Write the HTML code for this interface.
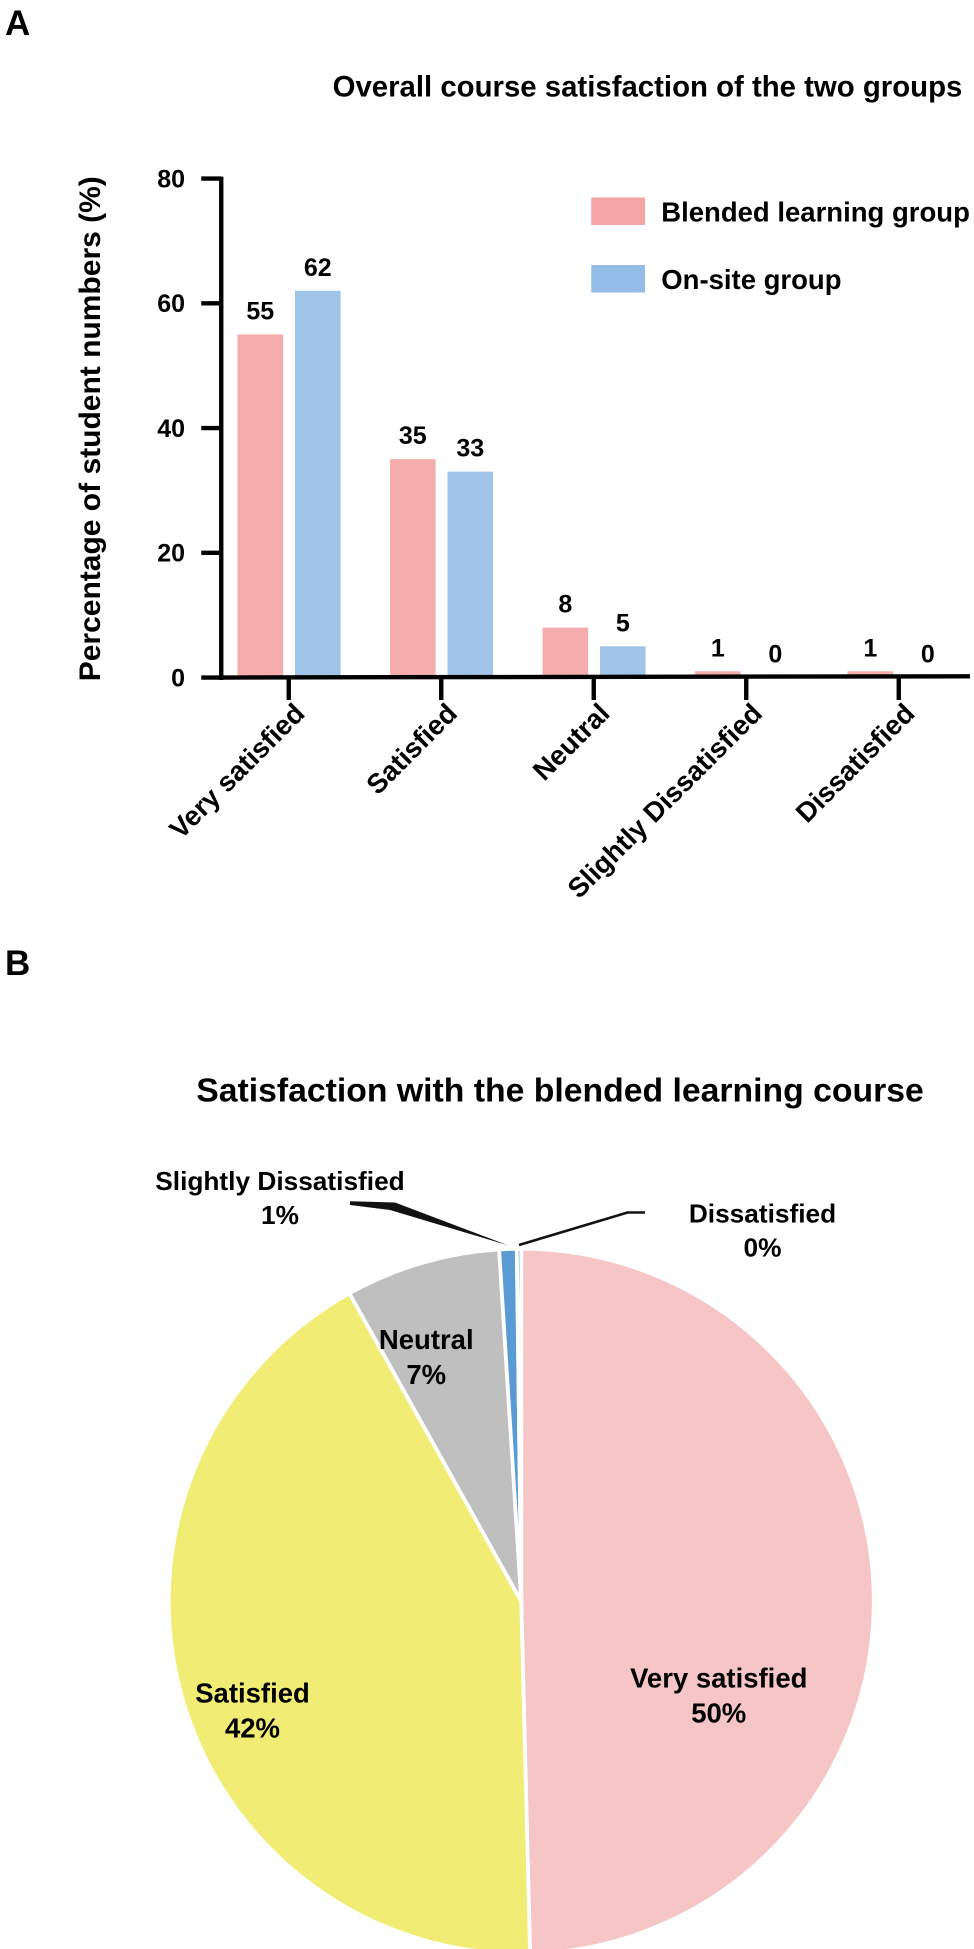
<!DOCTYPE html>
<html><head><meta charset="utf-8"><style>
html,body{margin:0;padding:0;background:#fff}
svg{display:block;font-family:"Liberation Sans",Arial,sans-serif;font-weight:bold}
</style></head><body>
<svg id="s" width="974" height="1949" viewBox="0 0 779.2 1559.2" xmlns="http://www.w3.org/2000/svg">
<text x="4" y="28" font-size="28">A</text>
<text x="518" y="77" font-size="23.5" text-anchor="middle">Overall course satisfaction of the two groups</text>
<text transform="translate(80,343) rotate(-90)" font-size="24" text-anchor="middle">Percentage of student numbers (%)</text>
<g id="bars"></g>
<g>
<rect x="473" y="158" width="43" height="22" fill="#f4a4a5"/>
<text x="529" y="177" font-size="22">Blended learning group</text>
<rect x="473" y="212" width="43" height="22" fill="#93bde6"/>
<text x="529" y="231" font-size="22">On-site group</text>
</g>
<text x="4" y="780" font-size="28">B</text>
<text x="448" y="881" font-size="27" text-anchor="middle">Satisfaction with the blended learning course</text>
<g id="pie"></g>
</svg>
<script>
const categories=["Very satisfied","Satisfied","Neutral","Slightly Dissatisfied","Dissatisfied"];
const blended=[55,35,8,1,1];
const onsite=[62,33,5,0,0];
const yTicks=[0,20,40,60,80];
const pieLabels=["Very satisfied","Satisfied","Neutral","Slightly Dissatisfied","Dissatisfied"];
const pieValues=[49.6,42.3,7.1,0.8,0.2];
const piePct=["50%","42%","7%","1%","0%"];

const NS="http://www.w3.org/2000/svg";
function mk(tag,attrs,parent,txt){const e=document.createElementNS(NS,tag);for(const k in attrs)e.setAttribute(k,attrs[k]);if(txt!==undefined)e.textContent=txt;parent.appendChild(e);return e;}
const y=v=>542-v*4.99;
const xTick=i=>231+122*i;
const g=document.getElementById('bars');
let ax=mk('line',{x1:177,y1:y(0)+2,x2:177,y2:y(80)-1.5,stroke:'#000','stroke-width':3.5},g);


yTicks.forEach(t=>{
 let l=mk('line',{x1:161,y1:y(t),x2:177,y2:y(t),stroke:'#000','stroke-width':3.5},g);
 
 
 let tx=mk('text',{x:148,y:y(t)+7,'font-size':20,'text-anchor':'end'},g,String(t));
 
 
});
const bw=36.5,gap=9.5;
categories.forEach((c,i)=>{
 const x0=xTick(i)-41;
 const vals=[blended[i],onsite[i]], cols=['#f4acac','#a0c4e8'];
 vals.forEach((v,j)=>{
  const bx=x0+j*(bw+gap);
  let r=mk('rect',{x:bx,y:y(v),width:bw,height:Math.max(y(0)-y(v),0.8),fill:cols[j]},g);
  
  
  let t=mk('text',{x:bx+bw/2,y:y(v)-12,'font-size':20,'text-anchor':'middle'},g,String(v));
  
  
 });
 let tk=mk('line',{x1:xTick(i),y1:y(0),x2:xTick(i),y2:y(0)+18,stroke:'#000','stroke-width':3.5},g);
 
 
 let lb=mk('text',{transform:`translate(${xTick(i)+14},${y(0)+30}) rotate(-45)`,'font-size':22,'text-anchor':'end'},g,c);
 
 
});
let xa=mk('line',{x1:175,y1:y(0),x2:776,y2:y(0)-1,stroke:'#000','stroke-width':3.5},g);



const p=document.getElementById('pie');
const cx=417,cy=1281,R=282;
const pcols=['#f6c5c6','#f1ec74','#c0bfc0','#5b9bd5','#5b9bd5'];
const total=pieValues.reduce((a,b)=>a+b,0);
const pt=(a,r)=>[cx+r*Math.sin(a),cy-r*Math.cos(a)];
let a0=0;const mids=[];
pieValues.forEach((v,i)=>{
 const a1=a0+v/total*2*Math.PI;
 const [x1,y1]=pt(a0,R),[x2,y2]=pt(a1,R);
 const large=(a1-a0)>Math.PI?1:0;
 let s=mk('path',{d:`M${cx},${cy}L${x1},${y1}A${R},${R} 0 ${large} 1 ${x2},${y2}Z`,fill:pcols[i],stroke:'#fff','stroke-width':3},p);
 
 
 mids.push((a0+a1)/2);a0=a1;
});
const inner=[[575,1350],[202,1362],[341,1079]];
[0,1,2].forEach(i=>{
 let t=mk('text',{x:inner[i][0],y:inner[i][1],'font-size':22,'text-anchor':'middle'},p);
 
 
 mk('tspan',{x:inner[i][0],dy:0},t,pieLabels[i]);
 mk('tspan',{x:inner[i][0],dy:28},t,piePct[i]);
});
const [sx,sy]=pt(mids[3],R+3);
let w1=mk('path',{d:`M${sx},${sy}L316,962L280,961L280,964L312,968Z`,fill:'#111'},p);


const [dx,dy]=pt(mids[4],R+3);
let l2=mk('polyline',{points:`${dx},${dy} 502,970 516,970`,fill:'none',stroke:'#111','stroke-width':2},p);


const outer=[[224,952,3,'middle'],[610,978,4,'middle']];
outer.forEach(([x,yy,i,an])=>{
 let t=mk('text',{x:x,y:yy,'font-size':21,'text-anchor':an},p);
 
 
 mk('tspan',{x:x,dy:0},t,pieLabels[i]);
 mk('tspan',{x:x,dy:27},t,piePct[i]);
});
</script>
</body></html>
